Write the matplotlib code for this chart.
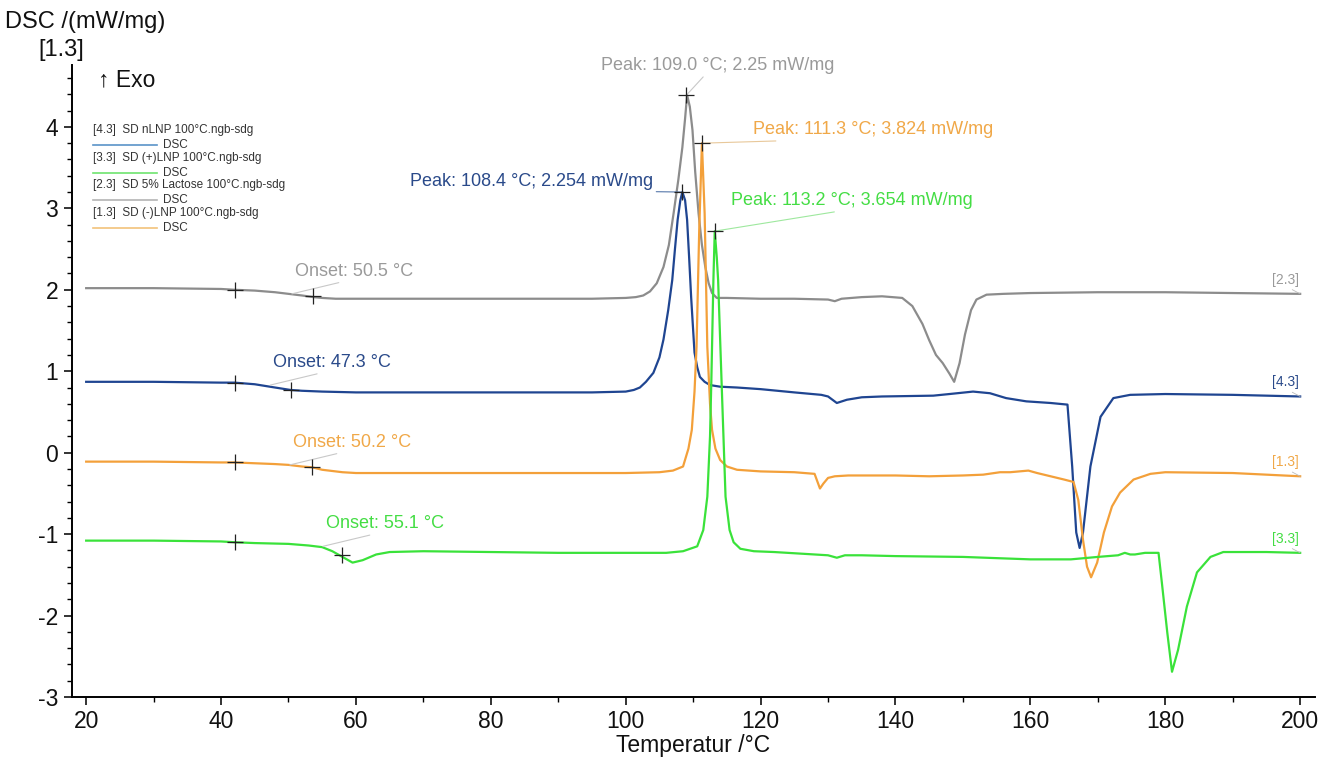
import numpy as np
import matplotlib
matplotlib.use('Agg')
import matplotlib.pyplot as plt
from matplotlib.lines import Line2D
from matplotlib.ticker import MultipleLocator

plt.rcParams['font.family'] = ['Liberation Sans', 'DejaVu Sans']
plt.rcParams['axes.unicode_minus'] = False

# ___ data ___
# [2.3] SD 5% Lactose
t_gray = [20, 30, 40, 42, 45, 48, 50, 52, 53.7, 55, 57, 60, 70, 80, 90, 95, 100, 101.5, 102.6, 103.6, 104.6,
          105.6, 106.4, 107.1, 107.8, 108.4, 108.8, 109.1, 109.5, 109.9, 110.3, 110.8, 111.3, 111.8,
          112.3, 112.8, 113.5, 115, 120, 125, 130, 131, 132, 135, 138, 141, 142.5, 144, 145, 146, 147,
          148, 148.7, 149.5, 150.3, 151.2, 152, 153.5, 156, 160, 170, 180, 190, 200]
d_gray = [2.02, 2.02, 2.01, 2.00, 1.99, 1.97, 1.95, 1.93, 1.91, 1.90, 1.89, 1.89, 1.89, 1.89, 1.89, 1.89,
          1.90, 1.91, 1.93, 1.98, 2.08, 2.28, 2.55, 2.94, 3.35, 3.75, 4.10, 4.39, 4.25, 3.96, 3.45, 2.94,
          2.55, 2.28, 2.08, 1.96, 1.90, 1.90, 1.89, 1.89, 1.88, 1.86, 1.89, 1.91, 1.92, 1.90, 1.80, 1.58,
          1.38, 1.20, 1.10, 0.97, 0.87, 1.10, 1.45, 1.75, 1.88, 1.94, 1.95, 1.96, 1.97, 1.97, 1.96, 1.95]

# [4.3] SD nLNP
t_blue = [20, 30, 40, 42, 45, 48, 50.3, 52, 55, 60, 70, 80, 90, 95, 100, 101.2, 102.1, 103, 104.1, 105,
          105.6, 106.3, 106.9, 107.3, 107.7, 108.1, 108.4, 108.8, 109.1, 109.4, 109.7, 110.0, 110.2,
          110.6, 111.0, 111.7, 112.5, 114, 116.5, 120, 125, 129, 130, 131.3, 132.8, 135, 138, 145.6,
          148, 151.5, 154, 156.4, 159.4, 163, 165.5, 166.2, 166.8, 167.3, 167.8, 168.9, 170.4, 172.3,
          174.8, 180, 190, 200]
d_blue = [0.87, 0.87, 0.86, 0.86, 0.84, 0.80, 0.77, 0.76, 0.75, 0.74, 0.74, 0.74, 0.74, 0.74, 0.75, 0.77,
          0.80, 0.87, 0.98, 1.17, 1.39, 1.75, 2.12, 2.50, 2.86, 3.10, 3.20, 3.10, 2.86, 2.40, 1.91, 1.50,
          1.23, 1.05, 0.93, 0.87, 0.83, 0.81, 0.80, 0.78, 0.74, 0.71, 0.69, 0.61, 0.65, 0.68, 0.69, 0.70,
          0.72, 0.75, 0.73, 0.67, 0.63, 0.61, 0.59, -0.17, -0.98, -1.17, -0.98, -0.17, 0.44, 0.67, 0.71,
          0.72, 0.71, 0.69]

# [1.3] SD (-)LNP
t_orange = [20, 30, 40, 42, 45, 48, 50, 52, 53.5, 55, 58, 60, 70, 80, 90, 100, 105, 107, 108.5, 109.3,
            109.8, 110.2, 110.5, 110.9, 111.3, 111.7, 112.1, 112.5, 112.8, 113.3, 114.0, 115, 116.5, 120,
            125, 128, 128.4, 128.8, 129.3, 130, 131, 133, 135, 140, 145, 150, 153, 155.5, 157, 159.7,
            161, 163, 165, 166.4, 167.1, 167.8, 168.4, 169.0, 169.9, 170.9, 172.1, 173.3, 175.3, 177.8,
            180, 190, 200]
d_orange = [-0.11, -0.11, -0.12, -0.12, -0.13, -0.14, -0.15, -0.17, -0.18, -0.21, -0.24, -0.25, -0.25,
            -0.25, -0.25, -0.25, -0.24, -0.22, -0.17, 0.05, 0.28, 0.75, 1.30, 2.74, 3.80, 2.94, 1.30,
            0.60, 0.28, 0.05, -0.09, -0.17, -0.21, -0.23, -0.24, -0.26, -0.35, -0.44, -0.38, -0.31,
            -0.29, -0.28, -0.28, -0.28, -0.29, -0.28, -0.27, -0.24, -0.24, -0.22, -0.25, -0.29, -0.33,
            -0.36, -0.58, -1.07, -1.40, -1.53, -1.35, -0.98, -0.66, -0.49, -0.33, -0.26, -0.24, -0.25,
            -0.29]

# [3.3] SD (+)LNP
t_green = [20, 30, 40, 42, 45, 50, 53, 55, 56.5, 58, 59.5, 61, 63, 65, 70, 80, 90, 100, 106, 108.5, 110.6,
           111.5, 112.1, 112.5, 112.7, 113.0, 113.2, 113.5, 113.7, 114.2, 114.8, 115.4, 116.0, 117, 119,
           122, 128, 130, 131.3, 132.5, 135, 140, 150, 160, 166, 170, 173, 174, 174.8, 175.5, 177, 179.0,
           179.5, 180.3, 181.0, 181.9, 183.2, 184.7, 186.7, 188.6, 195, 200]
d_green = [-1.08, -1.08, -1.09, -1.10, -1.11, -1.12, -1.14, -1.16, -1.21, -1.28, -1.35, -1.32, -1.25,
           -1.22, -1.21, -1.22, -1.23, -1.23, -1.23, -1.21, -1.15, -0.95, -0.54, 0.20, 0.90, 2.12, 2.72,
           2.40, 2.12, 0.90, -0.54, -0.95, -1.10, -1.18, -1.21, -1.22, -1.25, -1.26, -1.29, -1.26,
           -1.26, -1.27, -1.28, -1.31, -1.31, -1.28, -1.26, -1.23, -1.25, -1.25, -1.23, -1.23, -1.60,
           -2.21, -2.69, -2.42, -1.89, -1.47, -1.28, -1.22, -1.22, -1.23]

# markers (+) : baseline at 42 °C, onset tangent point, peak
mark_gray = [(42, 2.00), (53.7, 1.92), (109.0, 4.39)]
mark_blue = [(42, 0.86), (50.3, 0.77), (108.4, 3.20)]
mark_orange = [(42, -0.12), (53.5, -0.18), (111.3, 3.80)]
mark_green = [(42, -1.10), (58.0, -1.26), (113.2, 2.72)]

onset_gray = (50.5, 1.95, 'Onset: 50.5 °C')
onset_blue = (47.3, 0.83, 'Onset: 47.3 °C')
onset_orange = (50.2, -0.15, 'Onset: 50.2 °C')
onset_green = (55.1, -1.15, 'Onset: 55.1 °C')

peak_gray = 'Peak: 109.0 °C; 2.25 mW/mg'
peak_blue = 'Peak: 108.4 °C; 2.254 mW/mg'
peak_orange = 'Peak: 111.3 °C; 3.824 mW/mg'
peak_green = 'Peak: 113.2 °C; 3.654 mW/mg'

legend_labels = ['[4.3]  SD nLNP 100°C.ngb-sdg', '[3.3]  SD (+)LNP 100°C.ngb-sdg',
                 '[2.3]  SD 5% Lactose 100°C.ngb-sdg', '[1.3]  SD (-)LNP 100°C.ngb-sdg']
legend_colors = ['#5a93c8', '#6ee46e', '#b4b4b4', '#f2c27a']

c_gray = '#8c8c8c'
c_blue = '#1f4591'
c_orange = '#f3a03a'
c_green = '#3ae23a'

# ___ figure ___
fig = plt.figure(figsize=(13.23, 7.58), dpi=100)
ax = fig.add_axes([72/1323, 1-697/758, (1315-72)/1323, (697-65)/758])

px = 0.72  # one pixel in points

series = [(t_gray, d_gray, c_gray, mark_gray, onset_gray, '[2.3]', '#9a9a9a'),
          (t_blue, d_blue, c_blue, mark_blue, onset_blue, '[4.3]', '#2a4a8a'),
          (t_orange, d_orange, c_orange, mark_orange, onset_orange, '[1.3]', '#f0a848'),
          (t_green, d_green, c_green, mark_green, onset_green, '[3.3]', '#44dd44')]

for t, d, c, marks, onset, tag, tc in series:
    ax.plot(t, d, color=c, lw=1.6, solid_joinstyle='round', zorder=3)
    mx = [m[0] for m in marks]
    my = [m[1] for m in marks]
    ax.plot(mx, my, '+', color='#222222', ms=11, mew=0.9, zorder=4)
    # onset label with leader
    ax.annotate(onset[2], xy=(onset[0], onset[1]), xytext=(3*px, 14*px), textcoords='offset points',
                ha='left', va='bottom', fontsize=13, color=tc,
                arrowprops=dict(arrowstyle='-', color='#c8c8c8', lw=0.8, shrinkA=0, shrinkB=0,
                                relpos=(0.47, 0.0)))
    # curve tag at the right end
    ax.annotate(tag, xy=(t[-1], d[-1]), xytext=(-1*px, 7*px), textcoords='offset points',
                ha='right', va='bottom', fontsize=10, color=tc,
                arrowprops=dict(arrowstyle='-', color='#bbbbbb', lw=0.6, shrinkA=0, shrinkB=0,
                                relpos=(0.55, 0.0)))

# peak labels
ax.annotate(peak_gray, xy=mark_gray[2], xytext=(31*px, 21*px), textcoords='offset points',
            ha='center', va='bottom', fontsize=13, color='#9a9a9a', annotation_clip=False,
            arrowprops=dict(arrowstyle='-', color='#c8c8c8', lw=0.8, shrinkA=0, shrinkB=0, relpos=(0.45, 0)))
ax.annotate(peak_orange, xy=mark_orange[2], xytext=(51*px, 5*px), textcoords='offset points',
            ha='left', va='bottom', fontsize=13, color='#f0a848',
            arrowprops=dict(arrowstyle='-', color='#e8c89a', lw=0.8, shrinkA=0, shrinkB=0, relpos=(0.48, 0)))
ax.annotate(peak_blue, xy=mark_blue[2], xytext=(-272*px, 2*px), textcoords='offset points',
            ha='left', va='bottom', fontsize=13, color='#2a4a8a',
            arrowprops=dict(arrowstyle='-', color='#5577aa', lw=0.8, shrinkA=0, shrinkB=0, relpos=(0.51, 0)))
ax.annotate(peak_green, xy=mark_green[2], xytext=(16*px, 22*px), textcoords='offset points',
            ha='left', va='bottom', fontsize=13, color='#44dd44',
            arrowprops=dict(arrowstyle='-', color='#9ee89e', lw=0.8, shrinkA=0, shrinkB=0, relpos=(0.5, 0)))

# axes styling
ax.set_xlim(17.9, 202.2)
ax.set_ylim(-3.0, 4.76)
ax.spines['top'].set_visible(False)
ax.spines['right'].set_visible(False)
ax.spines['left'].set_linewidth(1.4)
ax.spines['bottom'].set_linewidth(1.4)
ax.xaxis.set_major_locator(MultipleLocator(20))
ax.xaxis.set_minor_locator(MultipleLocator(10))
ax.yaxis.set_major_locator(MultipleLocator(1))
ax.yaxis.set_minor_locator(MultipleLocator(0.2))
ax.set_xticks(np.arange(20, 201, 20))
ax.tick_params(which='major', direction='out', length=6, width=1.2, labelsize=16.5, colors='#111111')
ax.tick_params(which='minor', direction='out', length=3.5, width=1.0)
ax.tick_params(axis='x', pad=3)
ax.tick_params(axis='y', pad=4)
ax.set_xlabel('Temperatur /°C', fontsize=16.5, labelpad=1, color='#111111')

# texts around the axes
fig.text(5/1323, 1-22/758, 'DSC /(mW/mg)', fontsize=17, ha='left', va='center', color='#111111')
fig.text(38/1323, 1-50/758, '[1.3]', fontsize=17, ha='left', va='center', color='#111111')
fig.text(98/1323, 1-80/758, '↑ Exo', fontsize=16.5, ha='left', va='center', color='#111111')

# legend block
for i, (lab, col) in enumerate(zip(legend_labels, legend_colors)):
    y0 = 130 + i*27.7
    fig.text(93/1323, 1-y0/758, lab, fontsize=8.5, ha='left', va='center', color='#333333')
    fig.add_artist(Line2D([93/1323, 157/1323], [1-(y0+15)/758]*2, color=col, lw=1.2))
    fig.text(163/1323, 1-(y0+15)/758, 'DSC', fontsize=8.5, ha='left', va='center', color='#333333')

fig.savefig('out.png', dpi=100)
